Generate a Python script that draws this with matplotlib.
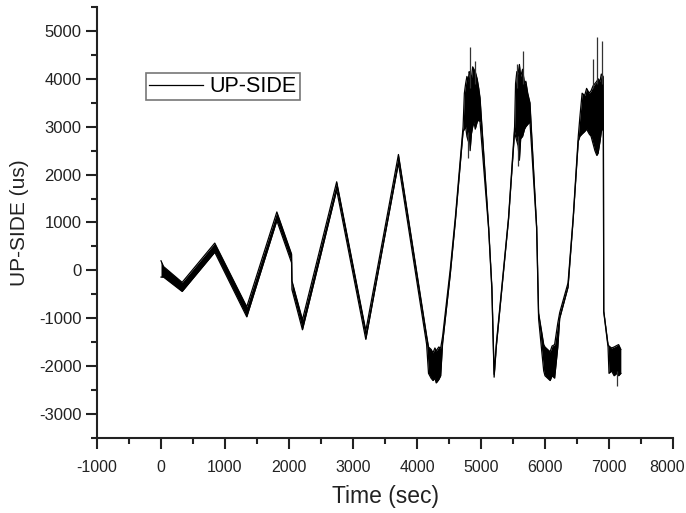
import matplotlib
matplotlib.use("Agg")
import matplotlib.pyplot as plt
import matplotlib.transforms as mtransforms
from matplotlib.ticker import MultipleLocator

plt.rcParams['font.family'] = ['Liberation Sans', 'DejaVu Sans']
plt.rcParams['axes.unicode_minus'] = False

# trace: time (sec) with the upper / lower edge of the noisy band (us)
t_sec = [0, 40, 330, 840, 1340, 1810, 2040, 2046, 2210, 2745, 3200, 3470, 3710,
         4150, 4180, 4220, 4250, 4280, 4300, 4340, 4370, 4400, 4520, 4600,
         4720, 4740, 4760, 4780, 4800, 4815, 4830, 4850, 4870, 4890, 4910, 4940, 4965, 4985,
         5120, 5170, 5205, 5240, 5430,
         5525, 5540, 5560, 5580, 5600, 5620, 5650, 5680, 5700, 5730, 5765,
         5870, 5900, 5950, 5980, 6000, 6040, 6080, 6110, 6150, 6200, 6230, 6360, 6440, 6520,
         6545, 6580, 6620, 6650, 6690, 6720, 6750, 6780, 6810, 6830, 6860, 6880, 6908,
         6912, 6918, 6985, 7000, 7040, 7080, 7120, 7150, 7185]
upper_us = [200, 80, -250, 570, -760, 1220, 340, -220, -1030, 1850, -1260, 680, 2420,
            -1360, -1600, -1650, -1720, -1620, -1680, -1600, -1620, -1380, 30, 1120,
            3000, 3700, 3900, 4050, 3950, 4150, 4100, 4000, 4250, 4200, 4150, 4000, 3800, 3600,
            890, -350, -2170, -1520, 1100,
            3000, 3900, 4150, 4100, 4300, 4050, 4200, 3900, 3950, 3700, 3500,
            900, -890, -1300, -1550, -1600, -1650, -1700, -1580, -1550, -1100, -880, -260, 1100, 2800,
            3200, 3700, 3650, 3800, 3700, 3750, 3850, 3900, 3950, 4000, 3950, 4100, 4050,
            3000, -850, -1550, -1580, -1620, -1600, -1570, -1550, -1650]
lower_us = [-140, -140, -440, 380, -970, 1040, 160, -400, -1240, 1680, -1440, 520, 2240,
            -1540, -2150, -2250, -2300, -2250, -2350, -2280, -2200, -1520, -80, 1040,
            2900, 2950, 3000, 2800, 2700, 2900, 2500, 2850, 3000, 3100, 2950, 3100, 3150, 3100,
            850, -410, -2230, -1580, 1060,
            2900, 2800, 2700, 2600, 2300, 2750, 2800, 2950, 3000, 3050, 3100,
            860, -1010, -1700, -2100, -2200, -2250, -2300, -2200, -2250, -1600, -1000, -350, 1060, 2700,
            2800, 2850, 2900, 2950, 2850, 2800, 2650, 2500, 2400, 2450, 2700, 2900, 3000,
            2980, -870, -1600, -2150, -2100, -2200, -2150, -2200, -2150]

# isolated spikes sticking out of the band
spike_t = [4800, 4828, 4906, 5567, 5583, 5651, 6755, 6808, 6886, 7125]
spike_from = [2900, 3800, 3900, 3800, 2800, 3900, 3800, 3900, 3900, -2100]
spike_to = [2350, 4670, 4380, 4310, 2190, 4590, 4420, 4870, 4800, -2420]

fig = plt.figure(figsize=(6.86, 5.13), dpi=100)
ax = fig.add_axes([97 / 686, 75 / 513, 576 / 686, 431 / 513])

ax.fill_between(t_sec, lower_us, upper_us, color='black', lw=0)
ax.plot(t_sec, upper_us, color='black', lw=0.9, label='UP-SIDE')
ax.plot(t_sec, lower_us, color='black', lw=0.9)
ax.vlines(spike_t, spike_from, spike_to, color='#333333', lw=0.9)

ax.set_xlim(-1000, 8000)
ax.set_ylim(-3500, 5500)
ax.xaxis.set_major_locator(MultipleLocator(1000))
ax.xaxis.set_minor_locator(MultipleLocator(500))
ax.yaxis.set_major_locator(MultipleLocator(1000))
ax.yaxis.set_minor_locator(MultipleLocator(500))

for side in ['top', 'right']:
    ax.spines[side].set_visible(False)
for side in ['left', 'bottom']:
    ax.spines[side].set_linewidth(1.5)
    ax.spines[side].set_color('#222222')

ax.tick_params(which='major', direction='out', length=8, width=1.5, color='#222222',
               labelsize=12, labelcolor='#222222', pad=3)
ax.tick_params(which='minor', direction='out', length=4.5, width=1.5, color='#222222')
ax.tick_params(axis='x', which='major', pad=8, labelsize=11.5)

ax.set_xlabel('Time (sec)', fontsize=16.5, color='#222222')
ax.xaxis.set_label_coords(0.5, -0.11)
ax.set_ylabel('UP-SIDE (us)', fontsize=15, color='#222222', labelpad=7)

leg = ax.legend(loc='upper left', bbox_to_anchor=(0.085, 0.847), borderaxespad=0,
                fontsize=15.5, fancybox=False, handlelength=2.5, handletextpad=0.3,
                borderpad=0.15, framealpha=1)
leg.get_frame().set_edgecolor('#777777')
leg.get_frame().set_linewidth(1.2)
for line in leg.get_lines():
    line.set_linewidth(0.9)

# the 8000 label sits right on the picture edge, nudge it in a little
fig.canvas.draw()
for lab in ax.get_xticklabels():
    if lab.get_text() == '8000':
        lab.set_transform(lab.get_transform() +
                          mtransforms.ScaledTranslation(-6 / 100, 0, fig.dpi_scale_trans))

fig.savefig('out.png', dpi=100)
